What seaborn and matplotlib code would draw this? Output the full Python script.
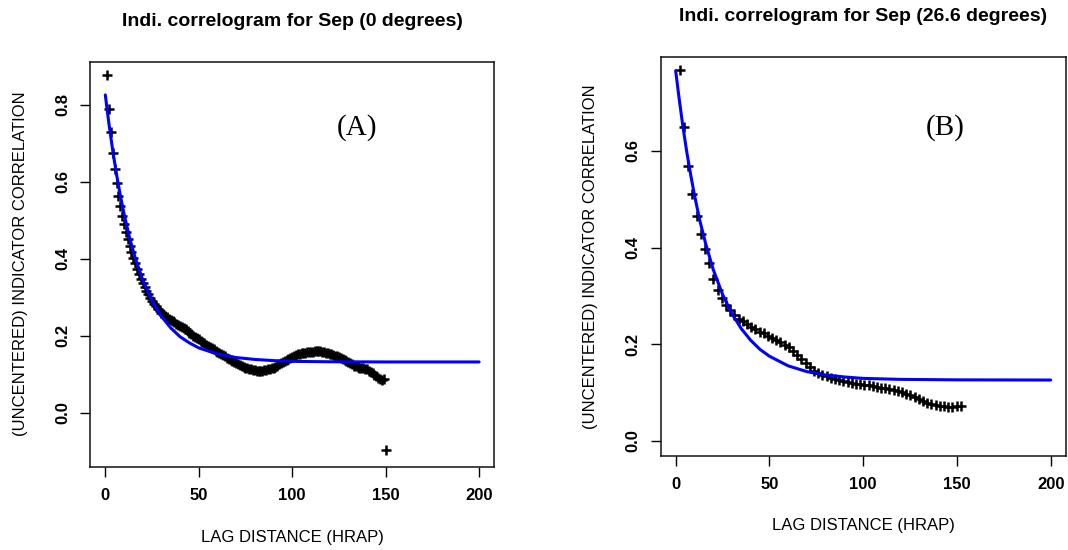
import numpy as np
import pandas as pd
import seaborn as sns
import matplotlib
matplotlib.use("Agg")
import matplotlib.pyplot as plt

# ---- data ----
# panel A: lags 1..150 (0 degrees)
lag_a = list(range(1, 151))
corr_a = [0.878, 0.790, 0.729, 0.676, 0.634, 0.597, 0.564, 0.538, 0.512, 0.491,
          0.471, 0.451, 0.434, 0.418, 0.403, 0.389, 0.375, 0.362, 0.349, 0.338,
          0.327, 0.317, 0.308, 0.299, 0.291, 0.284, 0.277, 0.271, 0.265, 0.260,
          0.256, 0.252, 0.248, 0.244, 0.241, 0.238, 0.235, 0.232, 0.229, 0.226,
          0.223, 0.220, 0.217, 0.213, 0.209, 0.205, 0.201, 0.198, 0.195, 0.191,
          0.188, 0.184, 0.181, 0.177, 0.174, 0.171, 0.168, 0.165, 0.162, 0.159,
          0.156, 0.153, 0.150, 0.147, 0.144, 0.141, 0.138, 0.135, 0.132, 0.129,
          0.127, 0.124, 0.122, 0.120, 0.118, 0.116, 0.115, 0.113, 0.112, 0.111,
          0.110, 0.110, 0.110, 0.110, 0.111, 0.112, 0.113, 0.114, 0.116, 0.118,
          0.120, 0.123, 0.126, 0.129, 0.132, 0.135, 0.138, 0.141, 0.144, 0.146,
          0.148, 0.150, 0.152, 0.153, 0.155, 0.156, 0.157, 0.158, 0.158, 0.159,
          0.159, 0.160, 0.160, 0.160, 0.160, 0.159, 0.158, 0.157, 0.156, 0.154,
          0.153, 0.151, 0.149, 0.147, 0.145, 0.143, 0.140, 0.138, 0.135, 0.132,
          0.129, 0.126, 0.123, 0.121, 0.119, 0.118, 0.117, 0.116, 0.115, 0.113,
          0.110, 0.107, 0.103, 0.099, 0.095, 0.091, 0.088, 0.086, 0.087, -0.096]

# fitted model, panel A
fit_x_a = [0, 2, 4, 6, 8, 10, 13, 16, 20, 25, 30, 35, 40, 45, 50, 60, 70, 80, 90, 100, 120, 150, 200]
fit_y_a = [0.826, 0.749, 0.681, 0.620, 0.566, 0.518, 0.455, 0.403, 0.346, 0.292, 0.251, 0.221,
           0.198, 0.182, 0.169, 0.153, 0.144, 0.139, 0.136, 0.134, 0.133, 0.1325, 0.1325]

# panel B: 26.6 degree direction, lag steps of sqrt(5) HRAP
lag_b = [round(k * 5 ** 0.5, 2) for k in range(1, 69)]
corr_b = [0.767, 0.650, 0.568, 0.510, 0.466, 0.429, 0.397, 0.367, 0.334, 0.312,
          0.296, 0.282, 0.271, 0.261, 0.253, 0.247, 0.242, 0.236, 0.231, 0.226,
          0.222, 0.217, 0.213, 0.209, 0.204, 0.199, 0.193, 0.186, 0.178, 0.169,
          0.160, 0.152, 0.145, 0.140, 0.136, 0.133, 0.130, 0.127, 0.125, 0.123,
          0.122, 0.120, 0.118, 0.117, 0.116, 0.115, 0.113, 0.112, 0.110, 0.109,
          0.107, 0.105, 0.102, 0.100, 0.097, 0.094, 0.090, 0.086, 0.082, 0.078,
          0.075, 0.073, 0.072, 0.071, 0.070, 0.070, 0.071, 0.072]

fit_x_b = [0, 2, 4, 6, 8, 10, 13, 16, 20, 25, 30, 35, 40, 45, 50, 60, 70, 80, 90, 100, 120, 150, 200]
fit_y_b = [0.766, 0.704, 0.647, 0.596, 0.551, 0.509, 0.454, 0.408, 0.355, 0.303, 0.263, 0.232,
           0.208, 0.189, 0.175, 0.155, 0.143, 0.136, 0.132, 0.129, 0.127, 0.126, 0.1256]

x_ticks = [0, 50, 100, 150, 200]

sns.set_theme(style="ticks")
plt.rcParams['font.family'] = ['Liberation Sans', 'DejaVu Sans']
plt.rcParams.update({'text.color': 'black', 'axes.labelcolor': 'black',
                     'xtick.color': 'black', 'ytick.color': 'black'})

fig = plt.figure(figsize=(10.68, 5.5), dpi=100)
axA = fig.add_axes([0.0846, 0.1515, 0.378, 0.7364])
axB = fig.add_axes([0.6186, 0.1715, 0.3792, 0.7244])


def correlogram(ax, lags, corr, fx, fy, title, tag, tag_xy, ylim, yticks, title_y):
    sns.scatterplot(x=lags, y=corr, marker='+', s=55, color='black',
                    linewidth=1.8, ax=ax, zorder=2)
    sns.lineplot(x=fx, y=fy, color='#0000ff', linewidth=2.2, ax=ax, zorder=3)

    ax.set_xlim(-8, 208)
    ax.set_ylim(*ylim)
    ax.set_xticks(x_ticks)
    ax.set_yticks(yticks)
    ax.set_xticklabels([str(t) for t in x_ticks], fontsize=12, fontweight='bold')
    ax.set_yticklabels(['%.1f' % t for t in yticks], fontsize=12, fontweight='bold',
                       rotation=90, va='center')
    ax.tick_params(axis='both', direction='out', length=7.2, width=1.0, color='black')
    ax.tick_params(axis='x', pad=8.5)
    ax.tick_params(axis='y', pad=7.5)
    for s in ax.spines.values():
        s.set_visible(True)
        s.set_color('#111111')
        s.set_linewidth(1.1)

    ax.set_xlabel('LAG DISTANCE (HRAP)', fontsize=12, va='center')
    ax.set_ylabel('(UNCENTERED) INDICATOR CORRELATION', fontsize=12, va='center')
    ax.xaxis.set_label_coords(0.5, -0.1755)
    ax.yaxis.set_label_coords(-0.1732, 0.5)
    ax.set_title(title, fontsize=14, fontweight='bold', y=title_y, va='center', pad=0)
    ax.text(tag_xy[0], tag_xy[1], tag, fontsize=21, family='Liberation Serif',
            ha='center', va='center')


correlogram(axA, lag_a, corr_a, fit_x_a, fit_y_a,
            'Indi. correlogram for Sep (0 degrees)', '(A)', (134.9, 0.742),
            (-0.1395, 0.9125), [0.0, 0.2, 0.4, 0.6, 0.8], 1.0988)
correlogram(axB, lag_b, corr_b, fit_x_b, fit_y_b,
            'Indi. correlogram for Sep (26.6 degrees)', '(B)', (143.6, 0.649),
            (-0.031, 0.794), [0.0, 0.2, 0.4, 0.6], 1.1019)

fig.savefig('out.png', dpi=100)
